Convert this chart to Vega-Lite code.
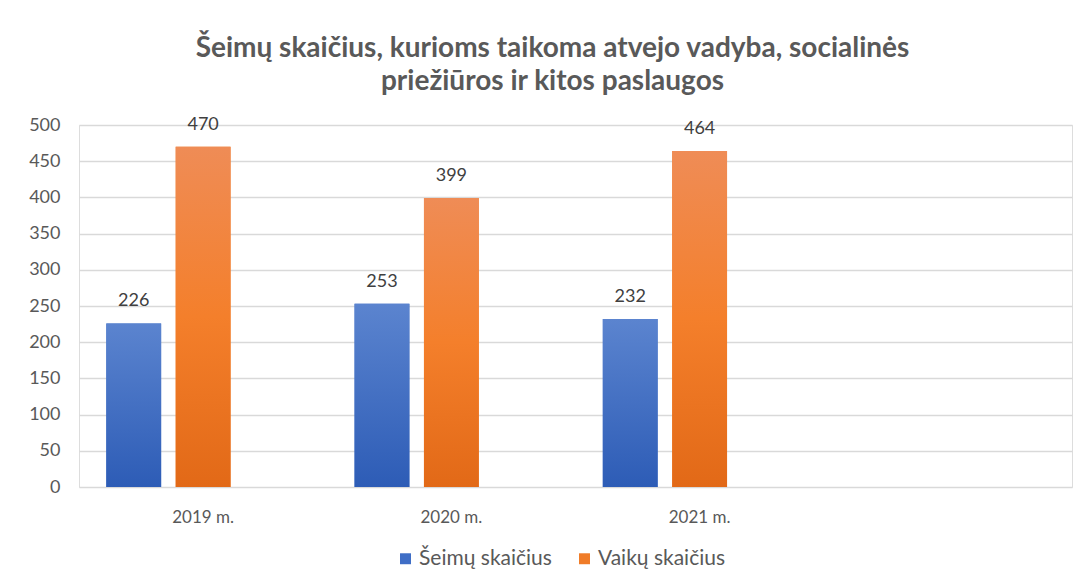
{
  "$schema": "https://vega.github.io/schema/vega-lite/v6.json",
  "width": 993,
  "height": 362,
  "autosize": {"type": "none"},
  "padding": {"left": 79, "top": 125, "right": 16, "bottom": 99},
  "background": "white",
  "title": {
    "text": ["Šeimų skaičius, kurioms taikoma atvejo vadyba, socialinės", "priežiūros ir kitos paslaugos"],
    "font": "Lato",
    "fontSize": 28,
    "fontWeight": "bold",
    "color": "#595959",
    "anchor": "middle",
    "dx": -23,
    "offset": 20,
    "lineHeight": 33
  },
  "data": {
    "values": [
      {"metai": "2019 m.", "serija": "Šeimų skaičius", "reiksme": 226},
      {"metai": "2019 m.", "serija": "Vaikų skaičius", "reiksme": 470},
      {"metai": "2020 m.", "serija": "Šeimų skaičius", "reiksme": 253},
      {"metai": "2020 m.", "serija": "Vaikų skaičius", "reiksme": 399},
      {"metai": "2021 m.", "serija": "Šeimų skaičius", "reiksme": 232},
      {"metai": "2021 m.", "serija": "Vaikų skaičius", "reiksme": 464}
    ]
  },
  "encoding": {
    "x": {
      "field": "metai",
      "type": "nominal",
      "scale": {"domain": ["2019 m.", "2020 m.", "2021 m.", " "], "paddingInner": 0.22, "paddingOuter": 0.11},
      "axis": {
        "title": null,
        "labelAngle": 0,
        "labelFont": "Lato",
        "labelFontSize": 17,
        "labelColor": "#595959",
        "labelPadding": 22,
        "ticks": false,
        "domain": false,
        "grid": false
      }
    },
    "xOffset": {
      "field": "serija",
      "type": "nominal",
      "scale": {"domain": ["Šeimų skaičius", "Vaikų skaičius", "tuščia"], "paddingInner": 0.21, "paddingOuter": 0}
    },
    "y": {
      "field": "reiksme",
      "type": "quantitative",
      "scale": {"domain": [0, 500], "nice": false},
      "axis": {
        "title": null,
        "values": [0, 50, 100, 150, 200, 250, 300, 350, 400, 450, 500],
        "labelFont": "Lato",
        "labelFontSize": 18,
        "labelColor": "#595959",
        "labelPadding": 19,
        "ticks": false,
        "domain": false,
        "grid": true,
        "gridColor": "#d9d9d9",
        "gridWidth": 1.5
      }
    }
  },
  "layer": [
    {
      "mark": {"type": "bar"},
      "encoding": {
        "color": {
          "field": "serija",
          "type": "nominal",
          "scale": {"domain": ["Šeimų skaičius", "Vaikų skaičius"], "range": ["#3f6ec6", "#f07c28"]},
          "legend": {
            "title": null,
            "orient": "none",
            "legendX": 316,
            "legendY": 423,
            "direction": "horizontal",
            "symbolType": "square",
            "symbolSize": 120,
            "symbolStrokeWidth": 0,
            "labelFont": "Lato",
            "labelFontSize": 21,
            "labelColor": "#595959",
            "labelOffset": 3,
            "columnPadding": 22
          }
        }
      }
    },
    {
      "transform": [{"filter": "datum.serija === 'Šeimų skaičius'"}],
      "mark": {
        "type": "bar",
        "color": {
          "gradient": "linear", "x1": 0, "y1": 0, "x2": 0, "y2": 1,
          "stops": [{"offset": 0, "color": "#5b84cf"}, {"offset": 1, "color": "#2d5cb6"}]
        }
      }
    },
    {
      "transform": [{"filter": "datum.serija === 'Vaikų skaičius'"}],
      "mark": {
        "type": "bar",
        "color": {
          "gradient": "linear", "x1": 0, "y1": 0, "x2": 0, "y2": 1,
          "stops": [{"offset": 0, "color": "#ef8c56"}, {"offset": 0.5, "color": "#f47f2b"}, {"offset": 1, "color": "#e26917"}]
        }
      }
    },
    {
      "mark": {"type": "text", "font": "Lato", "fontSize": 18, "color": "#404040", "baseline": "middle", "dy": -22},
      "encoding": {"text": {"field": "reiksme", "type": "quantitative"}}
    }
  ]
}
